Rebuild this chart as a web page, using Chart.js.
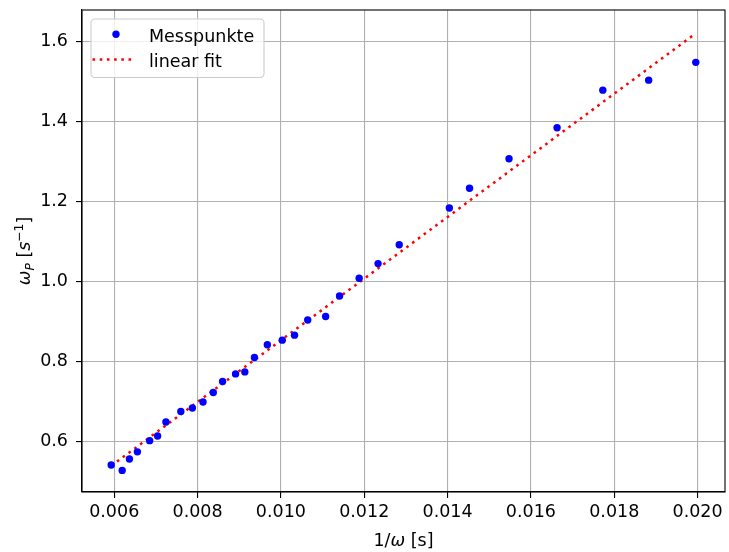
<!DOCTYPE html>
<html>
<head>
<meta charset="utf-8">
<script src="https://cdn.jsdelivr.net/npm/chart.js@4.4.0/dist/chart.umd.min.js"></script>
<style>
  html, body { margin: 0; padding: 0; background: #fff; }
  #wrap { width: 729px; height: 552px; }
</style>
</head>
<body>
<div id="wrap"><canvas id="myChart" width="729" height="552"></canvas></div>
<script>
// measured points (1/omega in s, omega_P in 1/s)
const xData = [0.005928, 0.006191, 0.006365, 0.006556, 0.00685, 0.007041, 0.007241, 0.007599,
  0.007876, 0.008131, 0.008377, 0.008601, 0.008912, 0.009134, 0.009365, 0.009675, 0.010033,
  0.010327, 0.010644, 0.011074, 0.011408, 0.011878, 0.012332, 0.01284, 0.014043, 0.014527,
  0.015475, 0.016628, 0.017726, 0.018826, 0.019957];
const yData = [0.541, 0.5275, 0.556, 0.574, 0.602, 0.6135, 0.6485, 0.675, 0.6835, 0.6985,
  0.7225, 0.75, 0.769, 0.774, 0.81, 0.842, 0.8535, 0.866, 0.904, 0.9125, 0.964, 1.0085,
  1.045, 1.092, 1.184, 1.2335, 1.3075, 1.385, 1.479, 1.504, 1.5485];

// fit line endpoints
const fitX = [0.005928, 0.019957];
const fitY = [0.539, 1.621];

const xTicks = [0.006, 0.008, 0.010, 0.012, 0.014, 0.016, 0.018, 0.020];
const yTicks = [0.6, 0.8, 1.0, 1.2, 1.4, 1.6];

const FONT = "'DejaVu Sans'";
const FS = 17.5;

const points = xData.map((x, i) => ({ x: x, y: yData[i] }));
const fitPoints = fitX.map((x, i) => ({ x: x, y: fitY[i] }));

const framePlugin = {
  id: "frame",
  afterDatasetsDraw(chart) {
    const { ctx, chartArea: a } = chart;
    ctx.save();
    ctx.strokeStyle = "#000";
    ctx.lineWidth = 1.1;
    ctx.strokeRect(a.left, a.top, a.right - a.left, a.bottom - a.top);
    ctx.restore();
  },
  afterDraw(chart) {
    const { ctx, chartArea: a } = chart;
    const ds = chart.data.datasets;
    ctx.save();

    // legend box
    const bx = 91, by = 19, bw = 173, bh = 58.5, r = 4;
    ctx.beginPath();
    ctx.moveTo(bx + r, by);
    ctx.arcTo(bx + bw, by, bx + bw, by + bh, r);
    ctx.arcTo(bx + bw, by + bh, bx, by + bh, r);
    ctx.arcTo(bx, by + bh, bx, by, r);
    ctx.arcTo(bx, by, bx + bw, by, r);
    ctx.closePath();
    ctx.fillStyle = "rgba(255,255,255,0.8)";
    ctx.fill();
    ctx.strokeStyle = "#cccccc";
    ctx.lineWidth = 1.1;
    ctx.stroke();

    ctx.fillStyle = ds[0].backgroundColor;
    ctx.beginPath();
    ctx.arc(116, 34.3, 3.7, 0, Math.PI * 2);
    ctx.fill();

    ctx.strokeStyle = ds[1].borderColor;
    ctx.lineWidth = ds[1].borderWidth;
    ctx.setLineDash(ds[1].borderDash);
    ctx.beginPath();
    ctx.moveTo(92.5, 59.5);
    ctx.lineTo(134.5, 59.5);
    ctx.stroke();
    ctx.setLineDash([]);

    ctx.fillStyle = "#000";
    ctx.font = FS + "px " + FONT;
    ctx.textBaseline = "alphabetic";
    ctx.textAlign = "left";
    ctx.fillText(ds[0].label, 149, 41.5);
    ctx.fillText(ds[1].label, 149, 67);

    // x axis title: 1/ω [s]
    const italic = "oblique " + FS + "px " + FONT;
    const normal = FS + "px " + FONT;
    const xParts = [["1/", normal], ["\u03c9", italic], [" [s]", normal]];
    let w = 0;
    xParts.forEach(p => { ctx.font = p[1]; w += ctx.measureText(p[0]).width; });
    let cx = (a.left + a.right) / 2 - w / 2;
    xParts.forEach(p => {
      ctx.font = p[1];
      ctx.fillText(p[0], cx, 545.5);
      cx += ctx.measureText(p[0]).width;
    });

    // y axis title: ω_P [s^-1]
    const small = FS * 0.7;
    const yParts = [
      ["\u03c9", italic, 0],
      ["P", "oblique " + small + "px " + FONT, 3.5],
      [" [", normal, 0],
      ["s", italic, 0],
      ["\u22121", small + "px " + FONT, -7.5],
      ["]", normal, 0]
    ];
    w = 0;
    yParts.forEach(p => { ctx.font = p[1]; w += ctx.measureText(p[0]).width; });
    ctx.translate(30, (a.top + a.bottom) / 2);
    ctx.rotate(-Math.PI / 2);
    cx = -w / 2;
    yParts.forEach(p => {
      ctx.font = p[1];
      ctx.fillText(p[0], cx, p[2]);
      cx += ctx.measureText(p[0]).width;
    });
    ctx.restore();
  }
};

const ctx = document.getElementById("myChart").getContext("2d");
const chart = new Chart(ctx, {
  type: "scatter",
  data: {
    datasets: [
      {
        label: "Messpunkte",
        data: points,
        backgroundColor: "#0000ff",
        borderColor: "#0000ff",
        pointRadius: 3.7,
        pointBorderWidth: 0,
        showLine: false,
        order: 1
      },
      {
        label: "linear fit",
        data: fitPoints,
        showLine: true,
        borderColor: "#ff0000",
        borderWidth: 2.5,
        borderDash: [2.6, 4.6],
        pointRadius: 0,
        fill: false,
        order: 2
      }
    ]
  },
  options: {
    responsive: false,
    animation: false,
    events: [],
    layout: { padding: { top: 10, right: 1, left: 0, bottom: 0 } },
    plugins: {
      legend: { display: false },
      tooltip: { enabled: false }
    },
    scales: {
      x: {
        type: "linear",
        min: 0.005227,
        max: 0.020658,
        afterBuildTicks: (s) => { s.ticks = xTicks.map(v => ({ value: v })); },
        afterFit: (s) => {
          s.height = 60;
          s.paddingLeft = 0; s.paddingRight = 0;
          s.paddingTop = 0; s.paddingBottom = 0;
        },
        ticks: {
          color: "#000",
          font: { family: FONT, size: FS },
          padding: 4,
          maxRotation: 0,
          callback: (v) => v.toFixed(3)
        },
        grid: { color: "#b0b0b0", lineWidth: 1.1, tickColor: "#000", tickLength: 6 },
        border: { display: true, color: "#000", width: 1.1 }
      },
      y: {
        type: "linear",
        min: 0.4735,
        max: 1.6795,
        afterBuildTicks: (s) => { s.ticks = yTicks.map(v => ({ value: v })); },
        afterFit: (s) => {
          s.width = 82;
          s.paddingLeft = 0; s.paddingRight = 0;
          s.paddingTop = 0; s.paddingBottom = 0;
        },
        ticks: {
          color: "#000",
          font: { family: FONT, size: FS },
          padding: 8,
          callback: (v) => v.toFixed(1)
        },
        grid: { color: "#b0b0b0", lineWidth: 1.1, tickColor: "#000", tickLength: 6 },
        border: { display: true, color: "#000", width: 1.1 }
      }
    }
  },
  plugins: [framePlugin]
});
</script>
</body>
</html>
